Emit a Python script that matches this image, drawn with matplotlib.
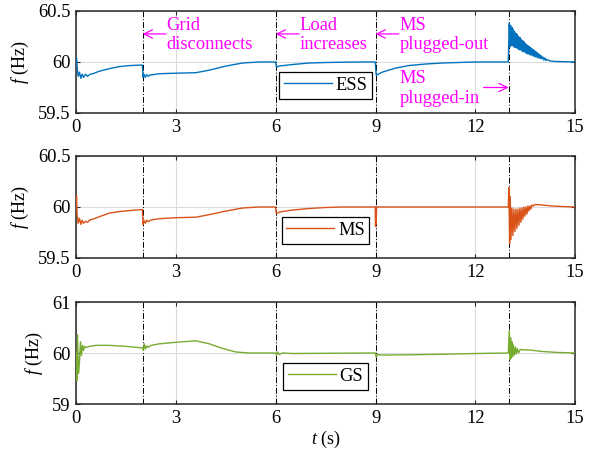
import numpy as np
import matplotlib.pyplot as plt

plt.rcParams['font.family'] = ['Liberation Serif', 'DejaVu Serif']
plt.rcParams['mathtext.fontset'] = 'custom'
plt.rcParams['mathtext.rm'] = 'Liberation Serif'
plt.rcParams['mathtext.it'] = 'Liberation Serif:italic'
plt.rcParams['font.size'] = 13

# frequency traces (s, Hz)
t_ess = [0.0, 0.01, 0.03, 0.06, 0.10, 0.14, 0.18, 0.22, 0.28, 0.34, 0.42, 0.5, 0.7, 1.0, 1.3, 1.6, 1.99,
         2.01, 2.04, 2.08, 2.12, 2.17, 2.23, 2.3, 2.5, 3.0, 3.6, 4.0, 4.5, 5.0, 5.5, 5.99,
         6.02, 6.1, 6.5, 7.0, 7.5, 8.5, 8.99,
         9.02, 9.2, 9.6, 10.0, 10.5, 11.0, 12.0, 12.99,
         13.02, 13.04, 13.06, 13.08, 13.10, 13.12, 13.14, 13.16, 13.18, 13.20, 13.22, 13.24,
         13.26, 13.28, 13.30, 13.32, 13.34, 13.36, 13.38, 13.40, 13.42, 13.44, 13.46, 13.48,
         13.50, 13.52, 13.54, 13.56, 13.58, 13.60, 13.62, 13.64, 13.66, 13.68, 13.70, 13.72,
         13.74, 13.76, 13.78, 13.80, 13.82, 13.84, 13.86, 13.88, 13.90, 13.92, 13.94, 13.96,
         13.98, 14.00, 14.03, 14.06, 14.09, 14.12, 14.15, 14.25, 14.4, 15.0]
f_ess = [60.0, 60.04, 59.95, 59.86, 59.90, 59.84, 59.88, 59.85, 59.88, 59.86, 59.88, 59.885, 59.91, 59.935, 59.955, 59.965, 59.97,
         59.85, 59.88, 59.85, 59.875, 59.86, 59.875, 59.875, 59.885, 59.89, 59.895, 59.92, 59.96, 59.99, 60.0, 60.0,
         59.95, 59.96, 59.975, 59.99, 59.995, 60.0, 60.0,
         59.87, 59.9, 59.94, 59.965, 59.98, 59.99, 60.0, 60.0,
         60.38, 60.15, 60.36, 60.16, 60.34, 60.16, 60.32, 60.15, 60.30, 60.14, 60.28, 60.14,
         60.27, 60.13, 60.25, 60.12, 60.24, 60.12, 60.22, 60.11, 60.21, 60.10, 60.20, 60.10,
         60.18, 60.09, 60.17, 60.08, 60.16, 60.08, 60.15, 60.07, 60.14, 60.07, 60.13, 60.06,
         60.12, 60.06, 60.11, 60.05, 60.10, 60.05, 60.09, 60.04, 60.08, 60.04, 60.07, 60.035,
         60.06, 60.03, 60.05, 60.02, 60.04, 60.015, 60.025, 60.01, 60.005, 60.0]

t_ms = [0.0, 0.01, 0.03, 0.06, 0.10, 0.14, 0.18, 0.22, 0.28, 0.34, 0.42, 0.5, 0.7, 1.0, 1.3, 1.6, 1.99,
        2.01, 2.04, 2.08, 2.12, 2.17, 2.23, 2.3, 2.5, 3.0, 3.6, 4.0, 4.5, 5.0, 5.5, 5.99,
        6.02, 6.1, 6.5, 7.0, 7.5, 8.0, 8.99,
        9.0, 9.01, 9.02, 9.03, 12.99,
        13.01, 13.03, 13.05, 13.07, 13.10, 13.13, 13.16, 13.19, 13.22, 13.25, 13.28, 13.31,
        13.34, 13.37, 13.40, 13.43, 13.46, 13.49, 13.52, 13.55, 13.58, 13.61, 13.64, 13.67,
        13.70, 13.75, 13.8, 14.0, 14.3, 14.6, 15.0]
f_ms = [60.0, 60.11, 59.92, 59.84, 59.89, 59.83, 59.87, 59.84, 59.86, 59.85, 59.875, 59.88, 59.905, 59.94, 59.955, 59.965, 59.975,
        59.83, 59.87, 59.84, 59.87, 59.855, 59.87, 59.875, 59.885, 59.895, 59.9, 59.925, 59.96, 59.99, 60.0, 60.0,
        59.935, 59.95, 59.97, 59.985, 59.995, 60.0, 60.0,
        59.81, 60.0, 59.84, 60.0, 60.0,
        60.19, 59.64, 60.10, 59.68, 59.99, 59.72, 59.98, 59.76, 59.98, 59.79, 59.98, 59.82,
        59.99, 59.85, 59.99, 59.88, 60.0, 59.91, 60.0, 59.93, 60.01, 59.96, 60.01, 59.98,
        60.02, 60.01, 60.025, 60.02, 60.01, 60.005, 60.0]

t_gs = [0.0, 0.02, 0.04, 0.07, 0.10, 0.13, 0.16, 0.19, 0.22, 0.25, 0.3, 0.4, 0.6, 1.0, 1.5, 1.99,
        2.02, 2.05, 2.08, 2.12, 2.16, 2.25, 2.5, 3.0, 3.6, 4.0, 4.4, 4.8, 5.2, 5.99,
        6.02, 6.06, 6.1, 6.2, 6.5, 8.99,
        9.02, 9.06, 9.2, 10.0, 11.0, 12.0, 12.99,
        13.02, 13.04, 13.06, 13.08, 13.10, 13.12, 13.14, 13.17, 13.20, 13.23, 13.26, 13.30,
        13.35, 13.45, 13.6, 13.75, 14.0, 14.5, 15.0]
f_gs = [60.0, 59.46, 60.36, 59.6, 59.82, 60.22, 59.95, 60.15, 60.05, 60.13, 60.11, 60.13, 60.15, 60.15, 60.13, 60.1,
        60.05, 60.18, 60.08, 60.14, 60.11, 60.15, 60.18, 60.21, 60.24, 60.18, 60.09, 60.02, 60.0, 60.0,
        59.96, 60.02, 59.97, 60.0, 59.99, 60.0,
        59.92, 59.97, 59.96, 59.965, 59.975, 59.99, 60.0,
        60.44, 59.87, 60.3, 59.9, 60.22, 59.93, 60.16, 59.96, 60.12, 59.98, 60.09, 60.0,
        60.07, 60.06, 60.06, 60.05, 60.03, 60.01, 60.0]

event_times = [2, 6, 9, 13]
series = [('ESS', t_ess, f_ess, '#0072BD', (59.5, 60.5), [59.5, 60, 60.5], ['59.5', '60', '60.5']),
          ('MS', t_ms, f_ms, '#D95319', (59.5, 60.5), [59.5, 60, 60.5], ['59.5', '60', '60.5']),
          ('GS', t_gs, f_gs, '#77AC30', (59, 61), [59, 60, 61], ['59', '60', '61'])]
bottoms = [0.7533, 0.4367, 0.1179]

fig = plt.figure(figsize=(5.95, 4.58), dpi=100)
axes = []
for (name, t, f, col, ylim, yt, ytl), b in zip(series, bottoms):
    ax = fig.add_axes([0.128, b, 0.8386, 0.2227])
    ax.plot(t, f, color=col, lw=1.0, label=name, zorder=3)
    for te in event_times:
        ax.axvline(te, color='k', lw=0.7, ls=(0, (6, 2, 1, 2)), zorder=2)
    ax.set_xlim(0, 15)
    ax.set_ylim(*ylim)
    ax.set_xticks([0, 3, 6, 9, 12, 15])
    ax.set_yticks(yt)
    ax.set_yticklabels(ytl)
    ax.grid(True, color='#dcdcdc', lw=0.8, zorder=0)
    ax.set_axisbelow(True)
    ax.tick_params(direction='in', top=True, right=True, length=3, width=0.8,
                   labelsize=13.3, color='#262626', pad=4)
    for s in ax.spines.values():
        s.set_color('#262626')
        s.set_linewidth(1.1)
    ax.set_ylabel('$f$ (Hz)', fontsize=13, labelpad=5)
    leg = ax.legend(loc='center', bbox_to_anchor=(0.5, 0.27), fontsize=13.3, handlelength=2.6,
                    handletextpad=0.2, borderpad=0.25, fancybox=False, framealpha=1,
                    edgecolor='k', borderaxespad=0)
    leg.get_frame().set_linewidth(0.9)
    axes.append(ax)

axes[2].set_xlabel('$t$ (s)', fontsize=13, labelpad=2)

# event annotations on the ESS panel
mag = '#FF00FF'
ax = axes[0]
arrow = dict(arrowstyle='->', color=mag, lw=0.9, mutation_scale=15, shrinkA=0, shrinkB=0)
for x_txt, x_tip, y, label in [(2.7, 2.0, 60.275, 'Grid\ndisconnects'),
                                (6.7, 6.0, 60.275, 'Load\nincreases'),
                                (9.7, 9.0, 60.275, 'MS\nplugged-out')]:
    ax.annotate('', xy=(x_tip, y), xytext=(x_txt, y), arrowprops=arrow)
    ax.text(x_txt + 0.02, y - 0.01, label, color=mag, fontsize=13.3, va='center', ha='left', linespacing=1.2)
ax.annotate('', xy=(13.0, 59.75), xytext=(12.25, 59.75), arrowprops=arrow)
ax.text(9.72, 59.74, 'MS\nplugged-in', color=mag, fontsize=13.3, va='center', ha='left', linespacing=1.2)

fig.savefig('out.png', dpi=100)
